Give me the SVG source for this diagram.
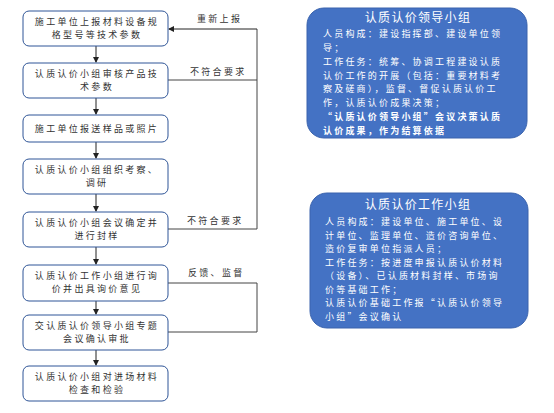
<svg xmlns="http://www.w3.org/2000/svg" width="554" height="413" viewBox="0 0 554 413">
<defs>
<style>
.box{fill:#fff;stroke:#2F5597;stroke-width:1}
.t{font-family:"Noto Sans CJK SC","Liberation Sans",sans-serif;font-size:9px;letter-spacing:2.3px;fill:#333}
.c{text-anchor:middle}
.panel{fill:#4472C4;stroke:#3A63AD;stroke-width:1}
.w{font-family:"Noto Sans CJK SC","Liberation Sans",sans-serif;font-size:9px;letter-spacing:2.2px;fill:#fff}
.wt{font-size:12px;letter-spacing:1.3px;text-anchor:middle}
.b{font-weight:bold}
.ln{fill:none;stroke:#444;stroke-width:1}
.ar{fill:none;stroke:#222;stroke-width:1;marker-end:url(#ah)}
</style>
<marker id="ah" markerWidth="6" markerHeight="6" refX="5" refY="3" orient="auto" markerUnits="userSpaceOnUse">
<path d="M0,0 L6,3 L0,6 Z" fill="#222"/>
</marker>
</defs>
<rect width="554" height="413" fill="#fff"/>
<g id="connectors">
<line class="ar" x1="96" y1="46" x2="96" y2="62"/>
<line class="ar" x1="96" y1="98" x2="96" y2="114"/>
<line class="ar" x1="96" y1="142" x2="96" y2="158"/>
<line class="ar" x1="96" y1="194" x2="96" y2="211"/>
<line class="ar" x1="96" y1="247" x2="96" y2="264"/>
<line class="ar" x1="96" y1="301" x2="96" y2="314"/>
<line class="ar" x1="96" y1="350" x2="96" y2="365"/>
<polyline class="ln" points="168,80 257,80"/>
<polyline class="ln" points="168,229 257,229 257,29"/>
<line class="ar" x1="257" y1="29" x2="169" y2="29"/>
<polyline class="ln" points="168,283 257,283 257,332 168,332"/>
<text class="t" x="197" y="22">重新上报</text>
<text class="t" x="190" y="75">不符合要求</text>
<text class="t" x="187" y="224">不符合要求</text>
<text class="t" x="188" y="276">反馈、监督</text>
</g>
<g id="n1"><rect class="box" x="23" y="11" width="145" height="35" rx="6"/>
<text class="t c" x="97" y="25">施工单位上报材料设备规</text><text class="t c" x="97" y="38">格型号等技术参数</text></g>
<g id="n2"><rect class="box" x="23" y="63" width="145" height="35" rx="6"/>
<text class="t c" x="97" y="77">认质认价小组审核产品技</text><text class="t c" x="97" y="90">术参数</text></g>
<g id="n3"><rect class="box" x="23" y="115" width="145" height="27" rx="6"/>
<text class="t c" x="97" y="132">施工单位报送样品或照片</text></g>
<g id="n4"><rect class="box" x="23" y="159" width="145" height="35" rx="6"/>
<text class="t c" x="97" y="173">认质认价小组组织考察、</text><text class="t c" x="97" y="186">调研</text></g>
<g id="n5"><rect class="box" x="23" y="212" width="145" height="35" rx="6"/>
<text class="t c" x="97" y="226">认质认价小组会议确定并</text><text class="t c" x="97" y="239">进行封样</text></g>
<g id="n6"><rect class="box" x="23" y="265" width="145" height="36" rx="6"/>
<text class="t c" x="97" y="279">认质认价工作小组进行询</text><text class="t c" x="97" y="292">价并出具询价意见</text></g>
<g id="n7"><rect class="box" x="23" y="315" width="145" height="35" rx="6"/>
<text class="t c" x="97" y="329">交认质认价领导小组专题</text><text class="t c" x="97" y="342">会议确认审批</text></g>
<g id="n8"><rect class="box" x="23" y="366" width="145" height="35" rx="6"/>
<text class="t c" x="97" y="380">认质认价小组对进场材料</text><text class="t c" x="97" y="393">检查和检验</text></g>
<g id="leader">
<rect class="panel" x="307" y="8" width="220" height="130" rx="17"/>
<text class="w wt" x="418" y="22">认质认价领导小组</text>
<text class="w" x="323" y="37">人员构成：建设指挥部、建设单位领</text>
<text class="w" x="323" y="51">导；</text>
<text class="w" x="323" y="65">工作任务：统筹、协调工程建设认质</text>
<text class="w" x="323" y="79">认价工作的开展（包括：重要材料考</text>
<text class="w" x="323" y="92">察及磋商），监督、督促认质认价工</text>
<text class="w" x="323" y="105.5">作，认质认价成果决策；</text>
<text class="w b" x="323" y="120">“认质认价领导小组”会议决策认质</text>
<text class="w b" x="323" y="133.5">认价成果，作为结算依据</text>
</g>
<g id="worker">
<rect class="panel" x="310" y="193" width="218" height="135" rx="17"/>
<text class="w wt" x="418" y="209">认质认价工作小组</text>
<text class="w" x="325" y="225">人员构成：建设单位、施工单位、设</text>
<text class="w" x="325" y="238.5">计单位、监理单位、造价咨询单位、</text>
<text class="w" x="325" y="252">造价复审单位指派人员；</text>
<text class="w" x="325" y="265.5">工作任务：按进度申报认质认价材料</text>
<text class="w" x="325" y="279">（设备）、已认质材料封样、市场询</text>
<text class="w" x="325" y="292.5">价等基础工作；</text>
<text class="w" x="325" y="306">认质认价基础工作报“认质认价领导</text>
<text class="w" x="325" y="319.5">小组”会议确认</text>
</g>
</svg>
